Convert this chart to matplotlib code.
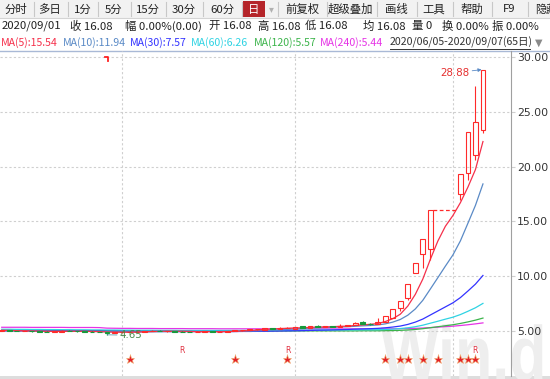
import numpy as np
import matplotlib
matplotlib.use("Agg")
import matplotlib.pyplot as plt
from matplotlib.patches import Rectangle, PathPatch
from matplotlib.textpath import TextPath
from matplotlib.font_manager import FontProperties
from matplotlib.transforms import Affine2D

plt.rcParams["font.family"] = ["Noto Sans CJK SC", "DejaVu Sans"]

nan = np.nan

# daily bars 2020/06/05 - 2020/09/07 (65 trading days), nan = suspended day
opens = [5.00, 5.05, 5.02, 4.98, 5.00, 4.97, 4.95, 4.93, 4.94, 5.04,
         4.98, 4.96, 4.94, 4.92, 4.90, 4.85, 4.88, 4.90, 4.93, 4.95,
         4.97, 5.02, 4.96, 4.98, 4.95, 4.93, 4.90, 4.94, 4.96, 4.93,
         4.95, 4.97, 5.05, 5.10, 5.15, 5.12, 5.25, 5.20, 5.28, 5.22,
         5.42, 5.30, 5.46, 5.40, 5.42, 5.38, 5.46, 5.55, 5.78, 5.66,
         5.62, 5.85, 6.16, 7.07, 8.04, 10.27, 12.03, 12.52, nan, nan,
         nan, 17.48, 19.40, 21.07, 23.36]
highs = [5.10, 5.07, 5.04, 5.03, 5.02, 4.99, 4.97, 4.98, 5.10, 5.06,
         5.00, 4.98, 4.96, 4.95, 4.92, 4.90, 4.93, 4.96, 4.97, 4.99,
         5.08, 5.05, 5.02, 5.00, 4.97, 4.95, 4.97, 4.99, 4.98, 4.97,
         5.00, 5.08, 5.12, 5.18, 5.20, 5.30, 5.28, 5.38, 5.33, 5.40,
         5.48, 5.50, 5.52, 5.45, 5.44, 5.60, 5.56, 5.85, 5.92, 5.72,
         6.19, 6.41, 7.05, 7.76, 9.31, 11.17, 13.40, 16.08, nan, nan,
         nan, 19.30, 23.16, 27.37, 28.88]
lows = [4.98, 5.00, 4.96, 4.96, 4.95, 4.93, 4.91, 4.92, 4.93, 4.96,
        4.94, 4.92, 4.90, 4.88, 4.65, 4.82, 4.86, 4.89, 4.91, 4.93,
        4.96, 4.98, 4.94, 4.93, 4.91, 4.90, 4.89, 4.92, 4.91, 4.92,
        4.93, 4.96, 5.02, 5.08, 5.12, 5.10, 5.18, 5.19, 5.25, 5.20,
        5.26, 5.28, 5.38, 5.36, 5.35, 5.36, 5.44, 5.53, 5.65, 5.58,
        5.60, 5.85, 6.16, 6.83, 7.83, 10.27, 10.73, 11.48, nan, nan,
        nan, 16.96, 18.79, 20.60, 23.10]
closes = [5.05, 5.02, 4.98, 5.00, 4.97, 4.95, 4.93, 4.96, 5.02, 4.98,
          4.96, 4.94, 4.92, 4.90, 4.85, 4.88, 4.90, 4.93, 4.95, 4.97,
          5.02, 5.00, 4.98, 4.95, 4.93, 4.92, 4.94, 4.96, 4.93, 4.95,
          4.97, 5.05, 5.10, 5.15, 5.18, 5.25, 5.22, 5.28, 5.30, 5.35,
          5.29, 5.45, 5.40, 5.42, 5.38, 5.48, 5.52, 5.75, 5.68, 5.62,
          5.83, 6.41, 7.05, 7.76, 9.31, 11.17, 13.40, 16.08, 16.08, 16.08,
          16.08, 19.30, 23.16, 24.07, 28.88]

ma5 = [5.06, 5.05, 5.03, 5.02, 5.00, 4.98, 4.97, 4.96, 4.97, 4.97,
       4.97, 4.97, 4.96, 4.94, 4.91, 4.90, 4.89, 4.89, 4.90, 4.93,
       4.95, 4.97, 4.98, 4.98, 4.98, 4.96, 4.94, 4.94, 4.94, 4.94,
       4.95, 4.97, 5.00, 5.04, 5.09, 5.15, 5.18, 5.22, 5.25, 5.28,
       5.29, 5.33, 5.36, 5.38, 5.39, 5.43, 5.44, 5.51, 5.56, 5.61,
       5.68, 5.86, 6.12, 6.53, 7.27, 8.34, 9.74, 11.54, 13.21, 14.56,
       15.54, 16.72, 18.14, 19.74, 22.30]
ma10 = [5.05, 5.04, 5.03, 5.02, 5.01, 5.00, 4.99, 4.98, 4.98, 4.99,
        4.98, 4.97, 4.96, 4.95, 4.94, 4.93, 4.93, 4.93, 4.92, 4.92,
        4.93, 4.93, 4.94, 4.94, 4.95, 4.96, 4.96, 4.96, 4.96, 4.96,
        4.95, 4.96, 4.97, 4.99, 5.02, 5.05, 5.08, 5.11, 5.15, 5.19,
        5.22, 5.26, 5.29, 5.31, 5.33, 5.36, 5.39, 5.43, 5.47, 5.50,
        5.55, 5.65, 5.81, 6.05, 6.44, 7.01, 7.80, 8.83, 9.87, 10.92,
        11.94, 13.23, 14.84, 16.47, 18.43]
ma30 = [5.02, 5.02, 5.01, 5.01, 5.01, 5.00, 5.00, 5.00, 5.00, 4.99,
        4.99, 4.99, 4.98, 4.98, 4.97, 4.97, 4.97, 4.96, 4.96, 4.96,
        4.96, 4.96, 4.96, 4.95, 4.95, 4.95, 4.95, 4.95, 4.95, 4.95,
        4.95, 4.95, 4.96, 4.96, 4.97, 4.98, 4.99, 5.00, 5.01, 5.02,
        5.03, 5.05, 5.07, 5.08, 5.10, 5.12, 5.14, 5.17, 5.19, 5.21,
        5.24, 5.29, 5.36, 5.45, 5.60, 5.81, 6.09, 6.46, 6.83, 7.20,
        7.57, 8.05, 8.65, 9.28, 10.07]
ma60 = [5.16, 5.16, 5.15, 5.15, 5.14, 5.14, 5.13, 5.13, 5.12, 5.12,
        5.11, 5.11, 5.10, 5.10, 5.09, 5.09, 5.08, 5.08, 5.07, 5.07,
        5.07, 5.06, 5.06, 5.06, 5.05, 5.05, 5.05, 5.05, 5.05, 5.05,
        5.05, 5.05, 5.05, 5.06, 5.06, 5.06, 5.07, 5.07, 5.07, 5.08,
        5.08, 5.08, 5.09, 5.09, 5.09, 5.10, 5.10, 5.10, 5.11, 5.11,
        5.12, 5.14, 5.17, 5.22, 5.29, 5.39, 5.53, 5.71, 5.89, 6.08,
        6.26, 6.50, 6.80, 7.12, 7.52]
ma120 = [5.06, 5.06, 5.06, 5.05, 5.05, 5.05, 5.05, 5.04, 5.04, 5.04,
         5.04, 5.03, 5.03, 5.03, 5.03, 5.02, 5.02, 5.02, 5.02, 5.01,
         5.01, 5.01, 5.01, 5.01, 5.00, 5.00, 5.00, 5.00, 5.00, 5.00,
         5.00, 5.00, 5.00, 5.00, 5.00, 5.00, 5.00, 5.00, 5.00, 5.00,
         5.01, 5.01, 5.01, 5.01, 5.01, 5.01, 5.01, 5.01, 5.02, 5.02,
         5.02, 5.03, 5.04, 5.06, 5.09, 5.14, 5.21, 5.30, 5.39, 5.48,
         5.57, 5.69, 5.83, 5.99, 6.18]
ma240 = [5.34, 5.34, 5.34, 5.34, 5.33, 5.33, 5.33, 5.33, 5.33, 5.32,
         5.32, 5.32, 5.32, 5.31, 5.26, 5.25, 5.24, 5.24, 5.23, 5.23,
         5.23, 5.22, 5.22, 5.22, 5.22, 5.21, 5.21, 5.21, 5.21, 5.20,
         5.20, 5.20, 5.20, 5.20, 5.20, 5.20, 5.20, 5.20, 5.19, 5.19,
         5.19, 5.19, 5.19, 5.19, 5.19, 5.19, 5.19, 5.19, 5.19, 5.19,
         5.19, 5.19, 5.20, 5.21, 5.22, 5.24, 5.27, 5.31, 5.35, 5.40,
         5.44, 5.50, 5.57, 5.65, 5.74]

month_starts = [16, 39, 60]          # 07/01, 08/03, 09/01
star_days = [17, 31, 38, 51, 53, 54, 56, 58, 61, 62, 63]
r_days = [24, 38, 63]
sel = 60                              # 2020/09/01, the day in the header

ma_specs = [("MA(5)", ma5, "#f5304b"), ("MA(10)", ma10, "#5a8ac6"),
            ("MA(30)", ma30, "#3333ff"), ("MA(60)", ma60, "#2fd3e3"),
            ("MA(120)", ma120, "#3cb44b"), ("MA(240)", ma240, "#e633e6")]

UP, DOWN = "#ff2a2a", "#17993a"
W, H = 550, 379

fig = plt.figure(figsize=(W / 100, H / 100), dpi=100)

# --- pixel-space background layer: toolbar, header rows, watermark
bg = fig.add_axes([0, 0, 1, 1], zorder=0)
bg.set_xlim(0, W); bg.set_ylim(H, 0); bg.axis("off")

bg.add_patch(Rectangle((0, 0), W, 18, fc="#f2f2f2", ec="none"))
bg.plot([0, W], [18, 18], c="#d4d4d4", lw=0.8)
buttons = [("分时", 16), ("多日", 50), ("1分", 83), ("5分", 114), ("15分", 148),
           ("30分", 184), ("60分", 222), ("日", 254), ("前复权", 302),
           ("超级叠加", 350), ("画线", 396), ("工具", 434), ("帮助", 472),
           ("F9", 509)]
for sx in [34, 68, 98, 131, 166, 203, 242, 278, 327, 377, 417, 453, 492, 528]:
    bg.plot([sx, sx], [2, 16], c="#c8c8c8", lw=0.8)
bg.add_patch(Rectangle((243, 1), 22, 16, fc="#b5252a", ec="none"))
for lab, cx in buttons:
    bg.text(cx, 9.5, lab, ha="center", va="center", fontsize=8.2,
            color="white" if lab == "日" else "#222222")
# last button runs off the right edge, as in the terminal window
bg.text(535, 9.5, "隐藏", ha="left", va="center", fontsize=8.2,
        color="#222222", clip_on=True)
bg.text(271, 9, "▾", ha="center", va="center", fontsize=7, color="#b0b0b0",
        family=["DejaVu Sans"])

row2 = [(2, "2020/09/01"), (70, "收 16.08"), (125, "幅 0.00%(0.00)"),
        (209, "开 16.08"), (258, "高 16.08"), (305, "低 16.08"),
        (363, "均 16.08"), (412, "量 0"), (442, "换 0.00%"), (492, "振 0.00%")]
for x, s in row2:
    bg.text(x, 26, s, ha="left", va="center", fontsize=8.2, color="#222222")

ma_x = [1, 63, 130, 191, 254, 320]
for x, (name, vals, col) in zip(ma_x, ma_specs):
    bg.text(x, 42.5, f"{name}:{vals[sel]:.2f}", ha="left", va="center",
            fontsize=7.6, color=col)
bg.text(390, 42.5, "2020/06/05-2020/09/07(65日)", ha="left", va="center",
        fontsize=7.6, color="#333333")
bg.plot([390, 530], [48.5, 48.5], c="#333333", lw=0.7)
bg.text(539, 42.5, "▼", ha="center", va="center", fontsize=7,
        color="#8a8a8a", family=["DejaVu Sans"])

bg.plot([0, W], [50.8, 50.8], c="#a9b9d6", lw=1)
bg.add_patch(Rectangle((0, 376), W, 3, fc="#dddddd", ec="none"))

tp = TextPath((0, 0), "Win.d", size=1,
              prop=FontProperties(family="Liberation Sans", weight="bold"))
wm = Affine2D().scale(61, -77).translate(381, 380).transform_path(tp)
bg.add_patch(PathPatch(wm, fc="#eeeeee", ec="none"))

# --- price panel
ax = fig.add_axes([0, 3 / H, 511 / W, 325 / H], zorder=2)
ax.patch.set_alpha(0)
ax.set_xlim(-0.23, 67.73)
ax.set_ylim(0.89, 30.57)

x = np.arange(len(closes))
o, h, l, c = map(np.asarray, (opens, highs, lows, closes))

for v in range(5, 31, 5):
    ax.axhline(v, color="#cfcfcf", lw=0.8, ls=(0, (2, 2)), zorder=0)
for m in month_starts:
    ax.axvline(m, color="#cfcfcf", lw=0.8, ls=(0, (2, 2)), zorder=0)

for name, vals, col in ma_specs[::-1]:
    ax.plot(x, vals, color=col, lw=0.9, zorder=2)

bw = 0.64
for i in x:
    if np.isnan(o[i]):
        continue
    top, bot = max(o[i], c[i]), min(o[i], c[i])
    if c[i] >= o[i]:
        ax.vlines(i, top, h[i], color=UP, lw=0.8, zorder=3)
        ax.vlines(i, l[i], bot, color=UP, lw=0.8, zorder=3)
        ax.add_patch(Rectangle((i - bw / 2, bot), bw, max(top - bot, 0.02),
                               fc="none", ec=UP, lw=0.8, zorder=3))
    else:
        ax.vlines(i, l[i], h[i], color=DOWN, lw=0.8, zorder=3)
        ax.add_patch(Rectangle((i - bw / 2, bot), bw, max(top - bot, 0.02),
                               fc=DOWN, ec=DOWN, lw=0.8, zorder=3))

# suspension: dashed line at the last close
susp = np.where(np.isnan(o))[0]
ax.plot([susp[0] - 0.65, susp[-1] + 0.6], [c[susp[0] - 1]] * 2, color=UP,
        lw=0.9, ls=(0, (3, 2)), zorder=3)

ihi = int(np.nanargmax(h))
ax.annotate(f"{h[ihi]:.2f}", xy=(ihi, h[ihi]), xytext=(ihi - 1.8, h[ihi] - 0.3),
            ha="right", va="center", fontsize=7.4, color="#e53030",
            family=["DejaVu Sans"],
            arrowprops=dict(arrowstyle="-|>", color="#5a8ac6", lw=0.6,
                            mutation_scale=5, shrinkA=0, shrinkB=1))
ilo = int(np.nanargmin(l))
ax.annotate(f"{l[ilo]:.2f}", xy=(ilo, l[ilo]), xytext=(ilo + 1.7, l[ilo] - 0.03),
            ha="left", va="center", fontsize=7.4, color="#4a8a4a",
            family=["DejaVu Sans"],
            arrowprops=dict(arrowstyle="-", color="#5a9ab0", lw=0.6,
                            shrinkA=9, shrinkB=0))
ax.plot([ilo - 0.2, ilo + 0.15, ilo + 0.15], [30.0, 30.0, 29.65],
        color="#ff2020", lw=1.3, zorder=4)

ax.plot(star_days, [2.44] * len(star_days), ls="none", marker="*", ms=6.5,
        mfc="#e4202a", mec="#f0b070", mew=0.4, zorder=4)
for d in r_days:
    ax.text(d, 3.2, "R", ha="center", va="center", fontsize=5.5,
            color="#e03040", family=["DejaVu Sans"])

ax.yaxis.tick_right()
ax.set_yticks(range(5, 31, 5))
ax.set_yticklabels([f"{v:.2f}" for v in range(5, 31, 5)], family=["DejaVu Sans"])
ax.tick_params(axis="y", length=3, width=0.8, color="#cfcfcf", pad=1.5,
               labelsize=7.8, labelcolor="#333333")
ax.set_xticks([])
for s in ("left", "top", "bottom"):
    ax.spines[s].set_visible(False)
ax.spines["right"].set_color("#a0a0a0")
ax.spines["right"].set_linewidth(0.8)

fig.savefig("out.png", dpi=100)
